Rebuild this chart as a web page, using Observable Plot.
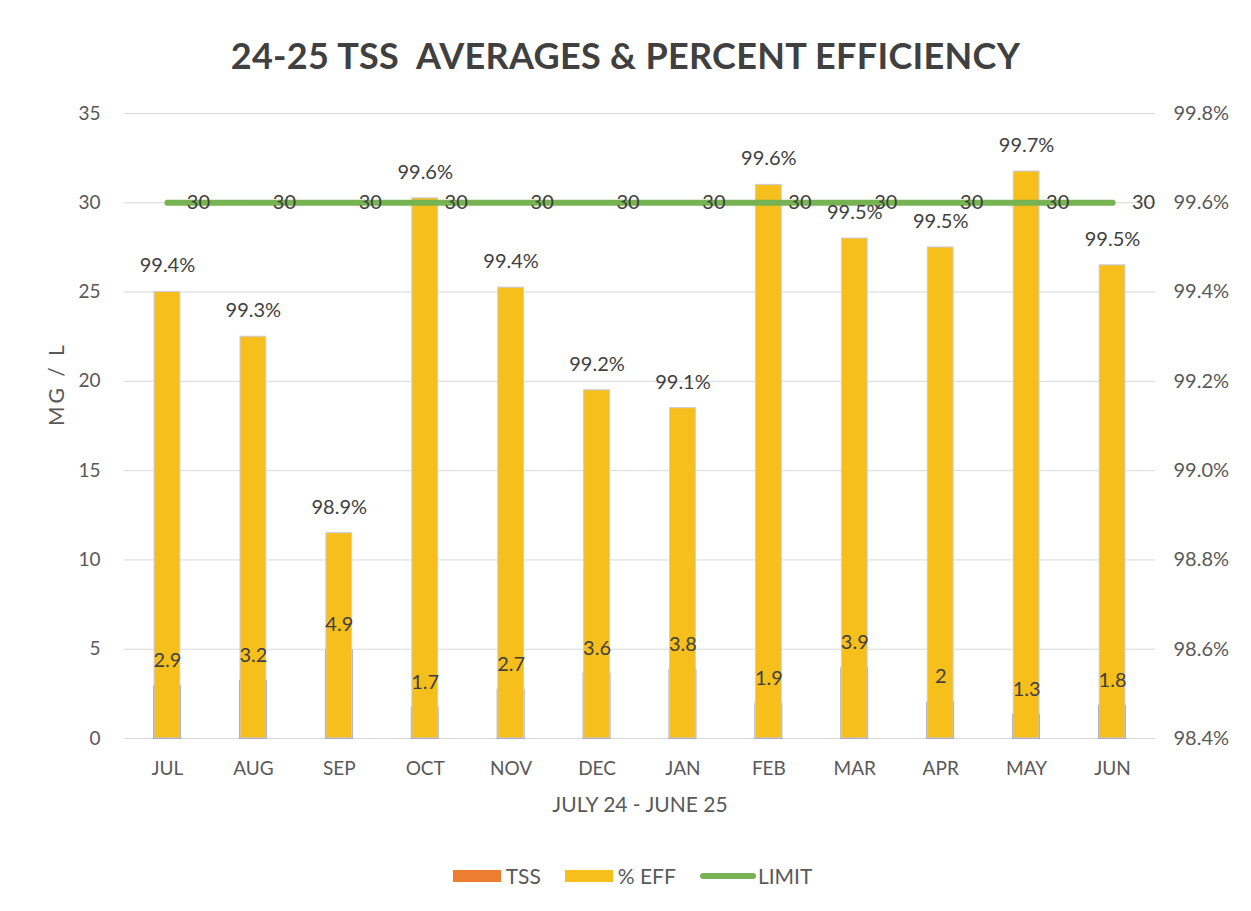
<!DOCTYPE html>
<html>
<head>
<meta charset="utf-8">
<script src="https://cdn.jsdelivr.net/npm/d3@7"></script>
<script src="https://cdn.jsdelivr.net/npm/@observablehq/plot@0.6"></script>
<style>
  html, body { margin: 0; padding: 0; background: #ffffff; }
  body { width: 1251px; height: 911px; overflow: hidden; font-family: Lato, "Open Sans", sans-serif; }
  #title { height: 90px; line-height: 110px; text-align: center; font-weight: 700; font-size: 36px; color: #404040; letter-spacing: 0.3px; }
  #chart svg { display: block; }
  #legend { display: flex; justify-content: center; align-items: center; height: 81px; margin-top: 5px; font-size: 21px; color: #595959; padding-left: 14px; }
  .item { display: flex; align-items: center; margin: 0 12px; }
  .sw { width: 48px; height: 12px; margin-right: 5px; }
  .ln { width: 56px; height: 6px; border-radius: 3px; margin-right: 2px; }
</style>
</head>
<body>
<div id="title">24-25 TSS&nbsp; AVERAGES &amp; PERCENT EFFICIENCY</div>
<div id="chart"></div>
<div id="legend"></div>
<script>
const months = ["JUL","AUG","SEP","OCT","NOV","DEC","JAN","FEB","MAR","APR","MAY","JUN"];
const tss = [2.9, 3.2, 4.9, 1.7, 2.7, 3.6, 3.8, 1.9, 3.9, 2, 1.3, 1.8];
const eff = [99.40, 99.30, 98.86, 99.61, 99.41, 99.18, 99.14, 99.64, 99.52, 99.50, 99.67, 99.46];
const limit = [30, 30, 30, 30, 30, 30, 30, 30, 30, 30, 30, 30];
const leftTicks = [0, 5, 10, 15, 20, 25, 30, 35];
const pctTicks = [98.4, 98.6, 98.8, 99.0, 99.2, 99.4, 99.6, 99.8];

const pctMin = 98.4, pctMax = 99.8, yMax = 35;
const toY = p => (p - pctMin) / (pctMax - pctMin) * yMax;
const fromY = v => pctMin + v / yMax * (pctMax - pctMin);

const COL_TSS = "#ED7D31", COL_EFF = "#F6BF1C", COL_LIM = "#78B353";

const rows = months.map((m, i) => ({month: m, tss: tss[i], eff: eff[i], effY: toY(eff[i]), limit: limit[i]}));

const font = "Lato, 'Open Sans', sans-serif";

const plot = Plot.plot({
  width: 1251,
  height: 740,
  marginTop: 23,
  marginBottom: 92,
  marginLeft: 124,
  marginRight: 96,
  style: {fontFamily: font, fontSize: "19px", color: "#595959", background: "#ffffff"},
  x: {domain: months, paddingInner: 0.7, paddingOuter: 0.35, round: false, label: null},
  y: {domain: [0, yMax], label: null},
  marks: [
    Plot.gridY(leftTicks, {stroke: "#d9d9d9", strokeOpacity: 1, strokeWidth: 1}),
    Plot.axisY(leftTicks, {anchor: "left", tickSize: 0, tickPadding: 24, label: null, fill: "#595959", fontSize: 19}),
    Plot.axisY(pctTicks.map(toY), {anchor: "right", tickSize: 0, tickPadding: 18, label: null, fill: "#595959", fontSize: 20,
      tickFormat: d => fromY(d).toFixed(1) + "%"}),
    Plot.axisX({tickSize: 0, tickPadding: 23, label: null, fill: "#595959", fontSize: 19}),
    Plot.text(["MG / L"], {frameAnchor: "left", dx: -67, rotate: -90, fill: "#595959", fontSize: 21}),
    Plot.text(["JULY 24 - JUNE 25"], {frameAnchor: "bottom", dy: 73, fill: "#595959", fontSize: 21}),
    Plot.barY(rows, {x: "month", y: "tss", fill: COL_TSS, stroke: "#6f76a8", strokeWidth: 2, strokeOpacity: 0.8}),
    Plot.barY(rows, {x: "month", y: "effY", fill: COL_EFF, stroke: "#c9cbe6", strokeWidth: 1}),
    Plot.lineY(rows, {x: "month", y: "limit", stroke: COL_LIM, strokeWidth: 6, strokeLinecap: "round"}),
    Plot.text(rows, {x: "month", y: "effY", text: d => d.eff.toFixed(1) + "%", dy: -26, fill: "#404040", fontSize: 20}),
    Plot.text(rows, {x: "month", y: "tss", text: d => String(d.tss), dy: -26, fill: "#404040", fontSize: 20}),
    Plot.text(rows, {x: "month", y: "limit", text: d => String(d.limit), dx: 31, fill: "#404040", fontSize: 20})
  ]
});
d3.select(plot).selectAll("text")
  .filter(function() { return this.textContent === "MG / L"; })
  .style("letter-spacing", "3px");
document.getElementById("chart").appendChild(plot);

const legendItems = [
  {name: "TSS", color: COL_TSS, kind: "sw"},
  {name: "% EFF", color: COL_EFF, kind: "sw"},
  {name: "LIMIT", color: COL_LIM, kind: "ln"}
];
const legend = document.getElementById("legend");
for (const it of legendItems) {
  const el = document.createElement("div");
  el.className = "item";
  const s = document.createElement("div");
  s.className = it.kind;
  s.style.background = it.color;
  el.appendChild(s);
  const t = document.createElement("span");
  t.textContent = it.name;
  el.appendChild(t);
  legend.appendChild(el);
}
</script>
</body>
</html>
